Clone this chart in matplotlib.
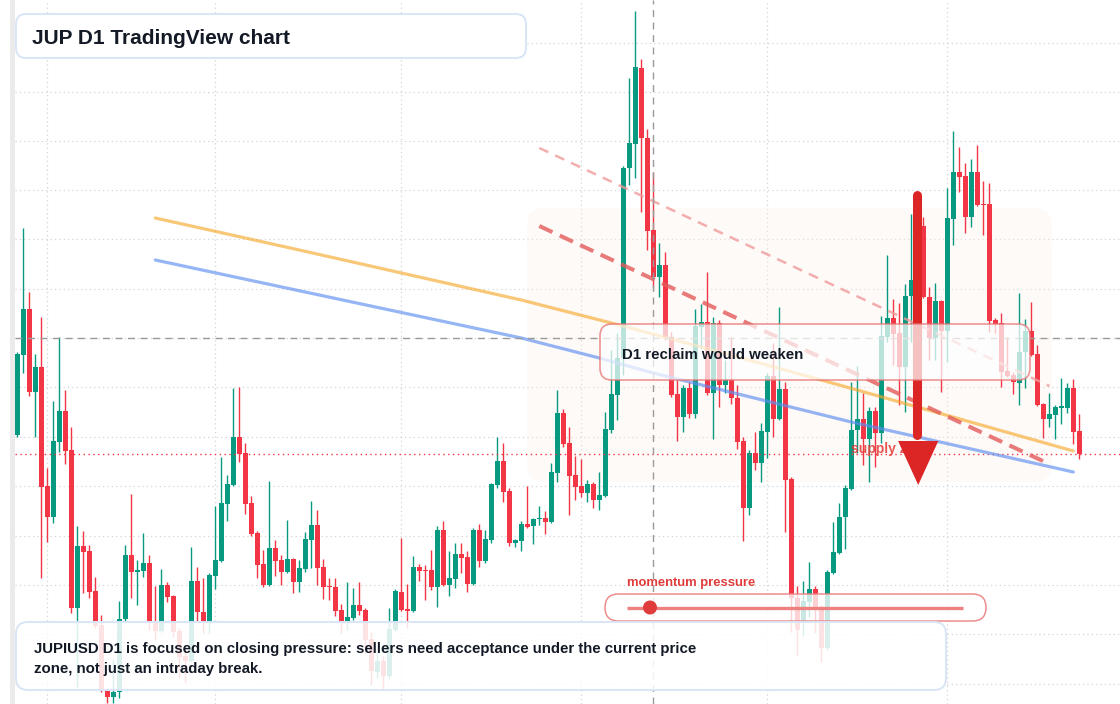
import numpy as np
import pandas as pd
import matplotlib
matplotlib.use("Agg")
import matplotlib.pyplot as plt
from matplotlib.patches import FancyBboxPatch, Rectangle, Circle, Polygon
from matplotlib.transforms import Affine2D

plt.rcParams['font.family'] = ['Liberation Sans', 'DejaVu Sans']

# JUPIUSD daily candles
dates = pd.date_range('2025-01-27', periods=178, freq='D')

opens = [
    .665, .745, .791, .708, .733, .614, .583, .658, .689, .650,
    .492, .554, .549, .509, .475, .410, .403, .408, .481, .545,
    .528, .529, .537, .477, .469, .515, .504, .469, .444, .439,
    .519, .488, .478, .524, .539, .596, .615, .663, .647, .597,
    .567, .536, .515, .552, .540, .528, .541, .518, .531, .560,
    .575, .533, .514, .513, .490, .478, .482, .495, .490, .461,
    .428, .439, .424, .470, .508, .491, .489, .533, .530, .530,
    .513, .570, .515, .521, .546, .543, .516, .570, .539, .560,
    .615, .639, .609, .557, .559, .576, .574, .581, .582, .578,
    .627, .687, .657, .625, .614, .607, .616, .600, .604, .670,
    .705, .742, .932, .956, 1.032, .962, .870, .823, .835, .763,
    .706, .683, .712, .686, .773, .778, .707, .777, .715, .720,
    .702, .659, .592, .647, .637, .668, .724, .681, .711, .621,
    .502, .478, .498, .511, .490, .452, .527, .547, .583, .611,
    .670, .681, .661, .689, .667, .763, .782, .767, .733, .804,
    .819, .874, .803, .762, .799, .769, .881, .928, .924, .883,
    .928, .896, .896, .780, .777, .729, .725, .717, .748, .769,
    .746, .696, .681, .685, .692, .692, .712, .669,
]
highs = [
    .748, .872, .808, .746, .783, .632, .699, .763, .710, .673,
    .574, .569, .555, .523, .485, .412, .441, .499, .555, .606,
    .540, .567, .545, .514, .531, .518, .505, .472, .452, .553,
    .533, .522, .527, .594, .643, .625, .712, .713, .657, .604,
    .569, .550, .619, .560, .545, .580, .542, .540, .568, .599,
    .590, .541, .522, .522, .496, .518, .512, .518, .492, .468,
    .447, .444, .492, .511, .562, .516, .544, .536, .535, .550,
    .574, .579, .549, .557, .557, .549, .572, .576, .570, .617,
    .663, .657, .612, .561, .579, .614, .582, .594, .589, .637,
    .710, .691, .673, .644, .641, .620, .618, .628, .688, .750,
    .767, .934, 1.022, 1.089, 1.041, .971, .928, .857, .848, .768,
    .720, .715, .718, .791, .796, .828, .783, .780, .740, .763,
    .715, .663, .650, .668, .677, .727, .757, .793, .718, .623,
    .514, .519, .538, .514, .495, .530, .578, .597, .615, .718,
    .734, .707, .693, .693, .784, .845, .801, .797, .816, .886,
    .895, .883, .813, .817, .800, .912, .969, .953, .937, .941,
    .955, .919, .917, .782, .787, .763, .728, .807, .781, .798,
    .755, .697, .707, .695, .722, .717, .721, .686,
]
lows = [
    .663, .727, .704, .663, .522, .558, .577, .648, .636, .487,
    .413, .507, .502, .472, .408, .397, .397, .402, .479, .502,
    .495, .523, .470, .460, .468, .498, .463, .422, .418, .438,
    .478, .467, .467, .511, .538, .579, .614, .638, .586, .564,
    .522, .513, .514, .524, .515, .527, .507, .508, .528, .532,
    .515, .501, .500, .484, .467, .470, .480, .485, .447, .415,
    .422, .410, .422, .469, .489, .472, .488, .519, .500, .510,
    .493, .514, .504, .512, .527, .508, .515, .533, .537, .557,
    .612, .598, .554, .553, .549, .572, .556, .575, .566, .577,
    .618, .653, .585, .600, .603, .598, .592, .590, .603, .667,
    .680, .725, .915, .922, .888, .850, .812, .803, .760, .703,
    .659, .668, .682, .682, .752, .705, .661, .693, .707, .696,
    .651, .559, .585, .630, .618, .642, .663, .680, .568, .468,
    .445, .464, .483, .467, .438, .450, .526, .546, .551, .610,
    .647, .635, .618, .633, .657, .758, .735, .695, .688, .758,
    .800, .802, .740, .740, .708, .738, .855, .908, .867, .873,
    .894, .865, .768, .767, .713, .723, .706, .695, .712, .744,
    .694, .662, .673, .661, .676, .687, .656, .641,
]
closes = [
    .746, .791, .708, .733, .613, .583, .659, .689, .649, .492,
    .554, .548, .508, .474, .410, .403, .408, .481, .545, .528,
    .530, .537, .477, .469, .515, .503, .468, .443, .439, .519,
    .488, .478, .525, .540, .597, .616, .663, .646, .596, .566,
    .535, .515, .552, .539, .528, .541, .518, .532, .561, .575,
    .532, .513, .513, .489, .478, .483, .495, .489, .460, .429,
    .439, .424, .471, .509, .490, .489, .533, .529, .529, .513,
    .570, .515, .522, .546, .542, .516, .570, .539, .561, .616,
    .639, .608, .557, .560, .576, .573, .581, .582, .578, .628,
    .687, .656, .624, .613, .607, .616, .600, .605, .671, .706,
    .742, .932, .957, 1.033, .962, .869, .823, .835, .763, .705,
    .683, .712, .686, .774, .778, .707, .777, .715, .720, .702,
    .658, .592, .647, .637, .669, .724, .681, .711, .620, .502,
    .470, .499, .511, .491, .452, .528, .548, .583, .612, .670,
    .681, .661, .689, .667, .764, .782, .766, .733, .804, .820,
    .874, .803, .762, .799, .769, .882, .928, .923, .883, .928,
    .895, .895, .779, .776, .728, .724, .718, .748, .769, .745,
    .695, .681, .686, .693, .694, .712, .668, .646,
]

# moving averages, sampled along the drawn curves (candle index, price)
ma_slow_idx = [23, 47, 84, 99, 114, 137, 176]
ma_slow_val = [.882, .850, .800, .777, .753, .715, .649]
ma_fast_idx = [23, 55, 84, 97, 106, 139, 176]
ma_fast_val = [.840, .799, .762, .742, .727, .678, .628]

# descending resistance lines (candle index, price)
trend_idx = [87, 172]
trend_upper = [.952, .714]
trend_lower = [.874, .636]

grid_levels = [1.057, 1.008, .959, .910, .861, .811, .762, .713,
               .663, .614, .564, .515, .466, .416]
cross_idx = 106
cross_price = .762

W, H = 1120, 704
GREEN = '#089981'
RED = '#f23645'
INK = '#131a26'
LEFT = 15 / W  # plot area starts right of the price-scale strip

fig = plt.figure(figsize=(W / 100, H / 100), dpi=100, facecolor='white')
ax = fig.add_axes([0, 0, 1, 1])
ax.set_axis_off()
ax.set_xlim(-2.883, 183.78)
ax.set_ylim(0.396, 1.1)

# pixel coordinates, y measured from the top (for overlay panels)
px = Affine2D().scale(1 / W, -1 / H).translate(0, 1) + fig.transFigure

x = np.arange(len(dates))
o = np.array(opens)
hi = np.array(highs)
lo = np.array(lows)
c = np.array(closes)
cols = np.where(c >= o, GREEN, RED)

# grid: month starts and price levels
for i in x[dates.day == 1]:
    ax.axvline(i, color='#d4d4d4', lw=0.9, ls=(0, (1, 2.5)), zorder=0)
for lv in grid_levels:
    ax.axhline(lv, xmin=LEFT, color='#d4d4d4', lw=0.9, ls=(0, (1, 2.5)), zorder=0)

# faint highlighted zone
ax.add_patch(FancyBboxPatch((527, 208), 525, 274, boxstyle='round,pad=0,rounding_size=18',
                            transform=px, facecolor='#fcf1ea', edgecolor='none',
                            alpha=0.3, zorder=0.5))

# candles
ax.vlines(x, lo, hi, colors=cols, lw=1.0, zorder=1.9)
body = np.maximum(np.abs(c - o), 0.0015)
ax.bar(x, body, bottom=np.minimum(o, c), width=0.8, color=cols, edgecolor='none', zorder=2)

# last price line
ax.axhline(closes[-1], xmin=LEFT, color=RED, lw=1.0, ls=(0, (1, 2.5)), zorder=2.5)

# moving averages
ax.plot(ma_slow_idx, ma_slow_val, color='#f5a623', lw=2.3, alpha=0.62,
        solid_capstyle='round', zorder=3)
ax.plot(ma_fast_idx, ma_fast_val, color='#5d8ef0', lw=2.3, alpha=0.65,
        solid_capstyle='round', zorder=3)

# trend lines
ax.plot(trend_idx, trend_upper, color='#f09a9a', lw=1.8, alpha=0.8,
        ls=(0, (4, 3)), zorder=3.2)
ax.plot(trend_idx, trend_lower, color='#e35a5a', lw=2.9, alpha=0.8,
        ls=(0, (3.6, 2)), zorder=3.2)

# crosshair
ax.axvline(cross_idx, color='#9a9a9a', lw=1.0, ls=(0, (5, 4)), zorder=3.5)
ax.axhline(cross_price, xmin=LEFT, color='#9a9a9a', lw=1.0, ls=(0, (5, 4)), zorder=3.5)

# supply zone label and bearish arrow
ax.text(851, 449, 'supply zone', transform=px, color='#e53935', alpha=0.85,
        fontsize=10, fontweight='bold', va='center', ha='left', zorder=3.8)
ax.plot([150, 150], [.905, .665], color='#dc2626', lw=6.5,
        solid_capstyle='round', zorder=4)
ax.add_patch(Polygon([(146.8, .659), (153.5, .659), (150.15, .615)],
                     closed=True, facecolor='#dc2626', edgecolor='none', zorder=4))

# reclaim panel
ax.add_patch(FancyBboxPatch((600, 324), 430, 56, boxstyle='round,pad=0,rounding_size=12',
                            transform=px, facecolor=(1, 1, 1, 0.72),
                            edgecolor=(0.9, 0.45, 0.45, 0.75), lw=1.2, zorder=5))
ax.text(622, 355, 'D1 reclaim would weaken', transform=px, color=INK,
        fontsize=10.8, fontweight='bold', va='center', ha='left', zorder=6)

# momentum slider
ax.text(627, 583, 'momentum pressure', transform=px, color='#e03c3c',
        fontsize=9.4, fontweight='bold', va='center', ha='left', zorder=6)
ax.add_patch(FancyBboxPatch((605, 594), 381, 27, boxstyle='round,pad=0,rounding_size=13.5',
                            transform=px, facecolor=(1, 1, 1, 0.78),
                            edgecolor=(0.93, 0.5, 0.5, 0.9), lw=1.1, zorder=5))
ax.plot([627, 963], [607.5, 607.5], transform=px, color='#ee8080', lw=2.4,
        solid_capstyle='butt', zorder=6)
ax.add_patch(Circle((650, 607.5), 7, transform=px, facecolor='#e03c3c',
                    edgecolor='none', zorder=6.5))

# bottom note
ax.add_patch(FancyBboxPatch((16, 622), 930, 68, boxstyle='round,pad=0,rounding_size=12',
                            transform=px, facecolor=(1, 1, 1, 0.86),
                            edgecolor='#d9e5f6', lw=1.4, zorder=5))
ax.text(34, 649, 'JUPIUSD D1 is focused on closing pressure: sellers need acceptance under the current price',
        transform=px, color=INK, fontsize=10.85, fontweight='bold', va='center', ha='left', zorder=6)
ax.text(34, 669, 'zone, not just an intraday break.', transform=px, color=INK,
        fontsize=10.85, fontweight='bold', va='center', ha='left', zorder=6)

# title
ax.add_patch(FancyBboxPatch((16, 14), 510, 44, boxstyle='round,pad=0,rounding_size=10',
                            transform=px, facecolor='white', edgecolor='#d9e5f6',
                            lw=1.4, zorder=5))
ax.text(32, 38, 'JUP D1 TradingView chart', transform=px, color=INK,
        fontsize=15, fontweight='bold', va='center', ha='left', zorder=6)

# left price-scale strip
ax.add_patch(Rectangle((10, 0), 5, H, transform=px, facecolor='#ebebeb',
                       edgecolor='none', zorder=6))

fig.savefig('out.png', dpi=100, facecolor='white')
